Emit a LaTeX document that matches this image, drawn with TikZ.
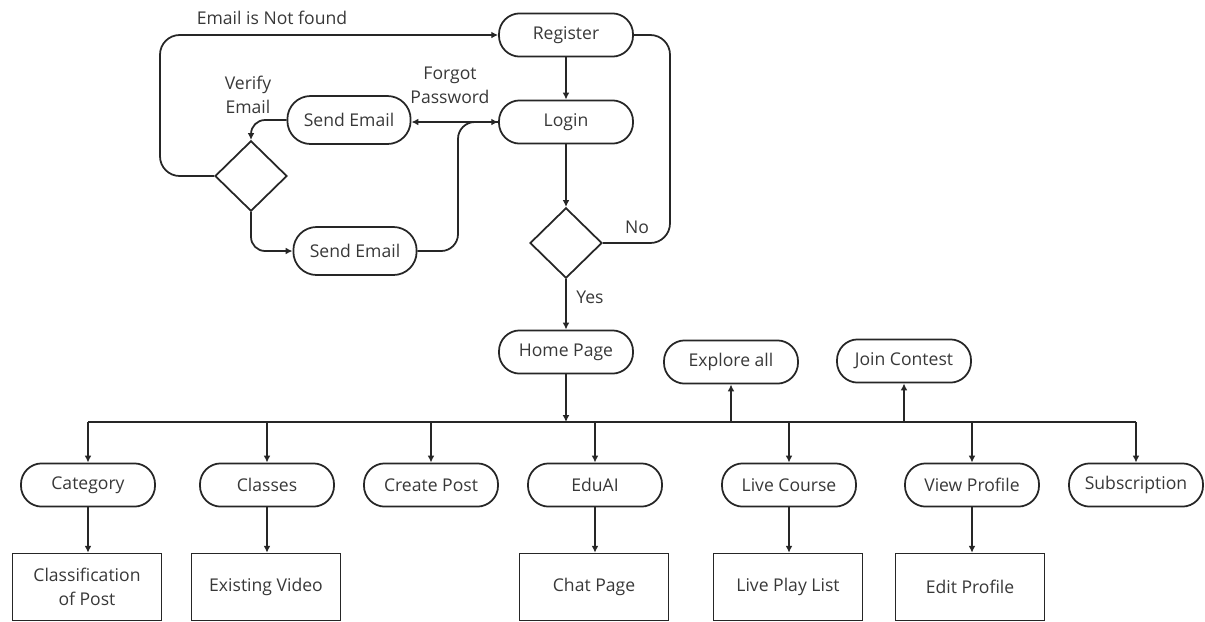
\documentclass[tikz,border=0pt]{standalone}
\usepackage{fontspec}
\setmainfont{Open Sans}
\usetikzlibrary{arrows.meta,shapes.geometric}

\begin{document}
\begin{tikzpicture}[x=0.025cm, y=-0.025cm, line width=1.25pt, draw=black!85,
  font=\fontsize{12.5}{17}\selectfont, text=black!78,
  pill/.style={draw, rounded corners=0.52cm, minimum width=3.35cm, minimum height=1.08cm},
  mailpill/.style={draw, rounded corners=0.58cm, minimum width=3.08cm, minimum height=1.2cm},
  pagebox/.style={draw, minimum width=3.72cm, minimum height=1.67cm, align=center},
  choice/.style={draw, diamond, inner sep=0pt, minimum width=1.8cm, minimum height=1.76cm},
  arr/.style={-{Latex[length=1.7mm, width=1.7mm]}}]
  \useasboundingbox (0,0) rectangle (1205,621);

  % login part
  \node[pill] (register) at (566,35) {Register};
  \node[pill] (login) at (566,122) {Login};
  \node[mailpill] (mailA) at (349,120) {Send Email};
  \node[mailpill] (mailB) at (355,251) {Send Email};
  \node[choice] (verify) at (251,176) {};
  \node[choice] (check) at (566,243) {};
  \node (notfound) at (272,18) {Email is Not found};
  \node[align=center] (verifytxt) at (248,95) {Verify\\Email};
  \node[align=center] (forgot) at (450,85) {Forgot\\Password};
  \node (no) at (637,227) {No};
  \node (yes) at (590,297) {Yes};
  \coordinate (outer) at (160,35);
  \coordinate (bend) at (458,122);
  \coordinate (rail) at (670,35);

  \draw[arr] (register) -- (login);
  \draw[arr] (login) -- (check);
  \draw[arr] (login.west) -- (login.west -| mailA.east);
  \draw[arr, rounded corners=12pt] (mailB.east) -| (bend) -- (login.west);
  \draw[arr, rounded corners=10pt] (mailA.west) -| (verify.north);
  \draw[arr, rounded corners=10pt] (verify.south) |- (mailB.west);
  \draw[arr, rounded corners=14pt] (verify.west) -| (outer) -- (register.west);
  \draw[rounded corners=14pt] (register.east) -- (rail) |- (check.east);

  % home page and menu
  \node[pill] (home) at (566,352) {Home Page};
  \node[pill] (explore) at (731,362) {Explore all};
  \node[pill] (contest) at (904,361) {Join Contest};
  \coordinate (hub) at (566,422);
  \draw[arr] (check) -- (home);
  \draw[arr] (home) -- (hub);

  \node[pill] (category) at (88,485) {Category};
  \node[pill] (classes) at (267,485) {Classes};
  \node[pill] (create) at (431,485) {Create Post};
  \node[pill] (eduai) at (595,485) {EduAI};
  \node[pill] (live) at (789,485) {Live Course};
  \node[pill] (profile) at (972,485) {View Profile};
  \node[pill] (subs) at (1136,485) {Subscription};

  \draw (hub -| category) -- (hub -| subs);
  \draw[arr] (hub -| explore) -- (explore);
  \draw[arr] (hub -| contest) -- (contest);
  \foreach \n in {category,classes,create,eduai,live,profile,subs}
    \draw[arr] (hub -| \n) -- (\n);

  \node[pagebox] (classif) at (87,587) {Classification\\of Post};
  \node[pagebox] (existing) at (266,587) {Existing Video};
  \node[pagebox] (chat) at (594,587) {Chat Page};
  \node[pagebox] (playlist) at (788,587) {Live Play List};
  \node[pagebox] (edit) at (970,587) {Edit Profile};

  \draw[arr] (category) -- (category |- classif.north);
  \draw[arr] (classes) -- (classes |- existing.north);
  \draw[arr] (eduai) -- (eduai |- chat.north);
  \draw[arr] (live) -- (live |- playlist.north);
  \draw[arr] (profile) -- (profile |- edit.north);
\end{tikzpicture}
\end{document}
